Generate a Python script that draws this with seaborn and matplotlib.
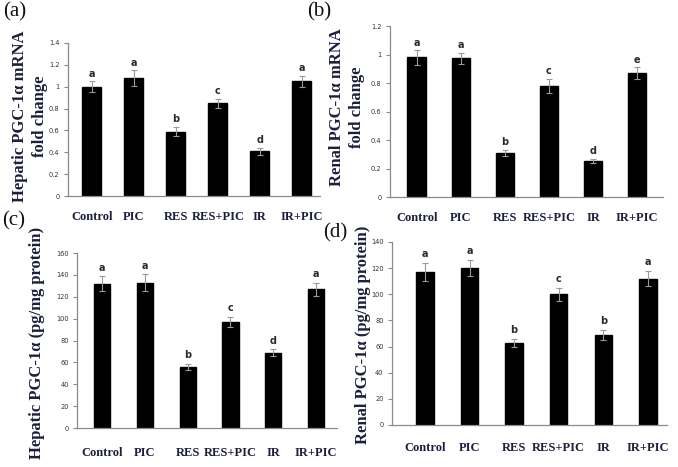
import numpy as np
import pandas as pd
import matplotlib
matplotlib.use("Agg")
import matplotlib.pyplot as plt
import seaborn as sns
from matplotlib.ticker import FuncFormatter

categories = ["Control", "PIC", "RES", "RES+PIC", "IR", "IR+PIC"]

a_vals = [1.00, 1.08, 0.59, 0.85, 0.41, 1.05]
a_err = [0.05, 0.07, 0.04, 0.04, 0.03, 0.05]
a_letters = ["a", "a", "b", "c", "d", "a"]

b_vals = [0.98, 0.975, 0.31, 0.78, 0.255, 0.87]
b_err = [0.05, 0.04, 0.02, 0.05, 0.015, 0.04]
b_letters = ["a", "a", "b", "c", "d", "e"]

c_vals = [132, 133, 56, 97, 69, 127]
c_err = [7, 8, 3, 5, 3, 6]
c_letters = ["a", "a", "b", "c", "d", "a"]

d_vals = [117, 120, 63, 100, 69, 112]
d_err = [7, 6, 3, 5, 4, 6]
d_letters = ["a", "a", "b", "c", "b", "a"]

sns.set_style("white")
plt.rcParams["font.family"] = ["DejaVu Sans"]

fig = plt.figure(figsize=(6.78, 4.67), dpi=100)

label_color = "#1b1f3b"
spine_color = "#8a8a8a"

panels = [
    dict(vals=a_vals, err=a_err, letters=a_letters, rect=[0.100, 0.580, 0.372, 0.328],
         ylim=(0, 1.4), yticks=np.arange(0, 1.41, 0.2), xlim=(-0.57, 5.43), width=0.45,
         off=0.025, pad=7),
    dict(vals=b_vals, err=b_err, letters=b_letters, rect=[0.575, 0.578, 0.403, 0.366],
         ylim=(0, 1.2), yticks=np.arange(0, 1.21, 0.2), xlim=(-0.61, 5.59), width=0.42,
         off=0.02, pad=7),
    dict(vals=c_vals, err=c_err, letters=c_letters, rect=[0.114, 0.0835, 0.383, 0.3745],
         ylim=(0, 160), yticks=np.arange(0, 161, 20), xlim=(-0.58, 5.49), width=0.38,
         off=3, pad=10),
    dict(vals=d_vals, err=d_err, letters=d_letters, rect=[0.578, 0.090, 0.406, 0.392],
         ylim=(0, 140), yticks=np.arange(0, 141, 20), xlim=(-0.74, 5.43), width=0.39,
         off=3, pad=9),
]

for p in panels:
    ax = fig.add_axes(p["rect"])
    df = pd.DataFrame({"group": categories, "value": p["vals"]})
    sns.barplot(data=df, x="group", y="value", color="black", width=p["width"],
                saturation=1, errorbar=None, ax=ax, edgecolor="black")
    x = np.arange(len(categories))
    ax.errorbar(x, p["vals"], yerr=p["err"], fmt="none", ecolor="#9a9a9a",
                elinewidth=0.8, capsize=2, capthick=0.8, zorder=5)
    for xi, v, e, l in zip(x, p["vals"], p["err"], p["letters"]):
        ax.text(xi, v + e + p["off"], l, ha="center", va="bottom", fontsize=7,
                fontweight="bold", color="#2a2a2a")
    ax.set_ylim(*p["ylim"])
    ax.set_xlim(*p["xlim"])
    ax.set_yticks(p["yticks"])
    ax.yaxis.set_major_formatter(FuncFormatter(lambda v, pos: f"{v:g}"))
    ax.set_xlabel("")
    ax.set_ylabel("")
    for s in ["top", "right"]:
        ax.spines[s].set_visible(False)
    for s in ["left", "bottom"]:
        ax.spines[s].set_color(spine_color)
        ax.spines[s].set_linewidth(0.9)
    ax.tick_params(axis="y", which="both", left=True, length=3, width=0.8,
                   color=spine_color, labelsize=4.8, labelcolor="#333333", pad=3)
    ax.tick_params(axis="x", bottom=False, pad=p["pad"])
    for t in ax.get_xticklabels():
        t.set_fontfamily(["Liberation Serif"])
        t.set_fontweight("bold")
        t.set_fontsize(9)
        t.set_color(label_color)

serif = ["Liberation Serif", "DejaVu Serif"]
fig.text(0.044, 0.752, "Hepatic PGC-1α mRNA\nfold change", rotation=90, ha="center",
         va="center", fontsize=12, fontweight="bold", family=serif, color=label_color,
         linespacing=1.3)
fig.text(0.512, 0.770, "Renal PGC-1α mRNA\nfold change", rotation=90, ha="center",
         va="center", fontsize=12, fontweight="bold", family=serif, color=label_color,
         linespacing=1.3)
fig.text(0.055, 0.265, "Hepatic PGC-1α (pg/mg protein)", rotation=90, ha="center",
         va="center", fontsize=12, fontweight="bold", family=serif, color=label_color)
fig.text(0.536, 0.282, "Renal PGC-1α (pg/mg protein)", rotation=90, ha="center",
         va="center", fontsize=12, fontweight="bold", family=serif, color=label_color)

for lx, ly, lt in [(0.004, 0.995, "(a)"), (0.453, 0.995, "(b)"),
                   (0.003, 0.548, "(c)"), (0.476, 0.522, "(d)")]:
    fig.text(lx, ly, lt, ha="left", va="top", fontsize=15, family=serif, color="#111111")

fig.savefig("out.png", dpi=100)
